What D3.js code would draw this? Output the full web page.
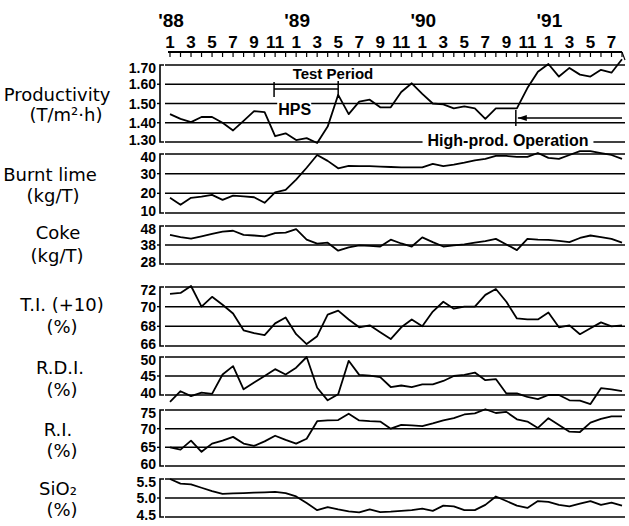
<!DOCTYPE html>
<html><head><meta charset="utf-8">
<script src="https://cdn.jsdelivr.net/npm/d3@7"></script>
<style>
html,body{margin:0;padding:0;background:#fff;}
svg{display:block;}
</style>
</head><body>
<svg id="chart" width="629" height="526"></svg>
<script>
// ---------- data ----------
const monthLabels = ["1","3","5","7","9","11","1","3","5","7","9","11","1","3","5","7","9","11","1","3","5","7"];
const yearLabels = ["'88","'89","'90","'91"];

const productivity = [1.445,1.42,1.403,1.43,1.43,1.40,1.36,1.41,1.46,1.455,1.33,1.345,1.31,1.32,1.295,1.38,1.545,1.445,1.51,1.52,1.48,1.48,1.56,1.605,1.55,1.50,1.495,1.475,1.485,1.475,1.42,1.475,1.475,1.475,1.58,1.665,1.705,1.64,1.685,1.65,1.64,1.675,1.66,1.73];
const burntLime = [17.7,14.2,17.7,18.3,19.2,16.7,18.8,18.5,18,15.2,20.5,21.8,27,33,39.5,36.5,32.7,34,33.8,33.8,33.6,33.4,33.2,33.2,33.2,35,33.8,34.6,35.6,36.8,37.5,39,39,38.5,38.5,40.5,38,37.5,39.5,41.5,41.5,40.5,39.5,37.5];
const coke = [43.3,42.2,41.3,42.5,43.8,45,45.5,43.3,43,42.5,44.2,44.5,46.3,40.8,38.7,39.2,35,36.7,37.8,37.5,37.2,40.8,38.8,37.2,42,39.5,37.2,37.8,38.3,39.2,40,41.2,38.3,35.3,41.2,40.8,40.7,40.2,39.5,41.7,43,42.2,41.2,39.2];
const tumblerIndex = [71.3,71.4,72.1,70,71,70.2,69.3,67.6,67.3,67.1,68.3,68.9,67.2,66.2,67,69.2,69.6,68.7,67.9,68.1,67.4,66.7,67.9,68.7,68,69.5,70.5,69.8,70,70,71.2,71.8,70.5,68.8,68.7,68.7,69.4,67.9,68.1,67.2,67.8,68.4,68,68.1];
const rdi = [38.2,41,39.7,40.6,40.3,45.4,47.6,41.5,43.3,45,46.8,45.4,47.2,50,41.9,38.6,40.2,49,45.3,45.1,44.7,42.1,42.5,42.1,42.8,42.8,43.7,45,45.3,45.9,43.9,44.2,40.4,40.4,39.5,38.9,40,40,38.6,38.5,37.6,41.8,41.5,41];
const ri = [65,64.4,66.8,63.8,66,66.8,67.8,66,65.4,66.6,68.1,67,66,67.3,72,72.2,72.3,74,72.2,72,71.9,70,71,70.9,70.7,71.4,72.2,72.8,73.8,74.1,75.2,74.2,74.5,72.5,71.9,70.2,72.8,71,69.2,69.1,71.6,72.6,73.3,73.3];
const sio2 = [5.5,5.38,5.36,5.27,5.18,5.11,5.12,5.13,5.14,5.15,5.16,5.13,5.04,4.87,4.68,4.76,4.7,4.65,4.62,4.7,4.63,4.64,4.66,4.68,4.72,4.66,4.8,4.78,4.68,4.68,4.82,5.04,4.92,4.8,4.74,4.92,4.9,4.82,4.78,4.85,4.92,4.82,4.88,4.8];

const prodTicks = [1.30,1.40,1.50,1.60,1.70];
const limeTicks = [10,20,30,40];
const cokeTicks = [28,38,48];
const tiTicks = [66,68,70,72];
const rdiTicks = [40,45,50];
const riTicks = [60,65,70,75];
const sio2Ticks = [4.5,5.0,5.5];

// ---------- layout ----------
const svg = d3.select("#chart");
const nMonths = productivity.length;
const x = d3.scaleLinear().domain([0, nMonths - 1]).range([170, 622]);
const gridX0 = 165, gridX1 = 625, bracketX = 160;
const tickFont = "'Liberation Sans', Arial, sans-serif";
const labFont = "'DejaVu Sans', sans-serif";

const panels = [
  {values: productivity, ticks: prodTicks, fmt: d3.format(".2f"), range: [142, 65],
   labels: [{t:"Productivity", x:57, y:101}, {t:"(T/m\u00B2\u00B7h)", x:66, y:121}]},
  {values: burntLime, ticks: limeTicks, fmt: d3.format("d"), range: [213, 154],
   labels: [{t:"Burnt lime", x:50, y:181}, {t:"(kg/T)", x:53, y:202}]},
  {values: coke, ticks: cokeTicks, fmt: d3.format("d"), range: [264, 226],
   labels: [{t:"Coke", x:58, y:239}, {t:"(kg/T)", x:57, y:262}]},
  {values: tumblerIndex, ticks: tiTicks, fmt: d3.format("d"), range: [346, 287],
   labels: [{t:"T.I. (+10)", x:62, y:311}, {t:"(%)", x:62, y:333}]},
  {values: rdi, ticks: rdiTicks, fmt: d3.format("d"), range: [395, 357],
   labels: [{t:"R.D.I.", x:60, y:374}, {t:"(%)", x:62, y:396}]},
  {values: ri, ticks: riTicks, fmt: d3.format("d"), range: [466, 410],
   labels: [{t:"R.I.", x:58, y:436}, {t:"(%)", x:62, y:457}]},
  {values: sio2, ticks: sio2Ticks, fmt: d3.format(".1f"), range: [517, 479],
   labels: [{t:"SiO\u2082", x:58, y:495}, {t:"(%)", x:62, y:516}]}
];

// ---------- top time axis ----------
const topY = 52;
svg.append("line").attr("x1", 168).attr("x2", 622).attr("y1", topY).attr("y2", topY)
  .attr("stroke", "#000").attr("stroke-width", 1.8);
const tickG = svg.append("g");
d3.range(nMonths).forEach(i => {
  tickG.append("line").attr("x1", x(i)).attr("x2", x(i)).attr("y1", topY).attr("y2", topY + 5)
    .attr("stroke", "#000").attr("stroke-width", 1.2);
});
svg.append("line").attr("x1", 622).attr("x2", 625).attr("y1", topY).attr("y2", topY + 8)
  .attr("stroke", "#000").attr("stroke-width", 1.2);
svg.append("g").selectAll("text").data(monthLabels).join("text")
  .attr("x", (d, i) => x(i * 2)).attr("y", 48)
  .attr("text-anchor", "middle")
  .style("font-family", tickFont).style("font-size", "17px").style("font-weight", "bold")
  .text(d => d);
svg.append("g").selectAll("text").data(yearLabels).join("text")
  .attr("x", (d, i) => x(i * 12) + 1).attr("y", 27)
  .attr("text-anchor", "middle")
  .style("font-family", tickFont).style("font-size", "19px").style("font-weight", "bold")
  .text(d => d);

// ---------- panels ----------
const line = d3.line();
panels.forEach(p => {
  const y = d3.scaleLinear().domain([p.ticks[0], p.ticks[p.ticks.length - 1]]).range(p.range);
  const g = svg.append("g");
  const last = p.ticks.length - 1;
  // grid
  g.selectAll("line.grid").data(p.ticks).join("line").attr("class", "grid")
    .attr("x1", gridX0).attr("x2", gridX1).attr("y1", d => y(d)).attr("y2", d => y(d))
    .attr("stroke", "#000").attr("stroke-width", 1.5);
  // bracket axis
  const yt = y(p.ticks[last]), yb = y(p.ticks[0]);
  g.append("path").attr("d", `M${bracketX + 4},${yt}H${bracketX}V${yb}H${bracketX + 4}`)
    .attr("fill", "none").attr("stroke", "#000").attr("stroke-width", 1.6);
  g.selectAll("line.tk").data(p.ticks.slice(1, -1)).join("line").attr("class", "tk")
    .attr("x1", bracketX - 3).attr("x2", bracketX).attr("y1", d => y(d)).attr("y2", d => y(d))
    .attr("stroke", "#000").attr("stroke-width", 1.4);
  // tick labels (edge labels nudged inward to keep them apart)
  g.selectAll("text.tl").data(p.ticks).join("text").attr("class", "tl")
    .attr("x", 156)
    .attr("y", (d, i) => y(d) + (i === 0 ? -2.5 : i === last ? 2.5 : 0))
    .attr("dy", "0.36em")
    .attr("text-anchor", "end")
    .style("font-family", tickFont).style("font-size", "14px").style("font-weight", "bold")
    .text(d => p.fmt(d));
  // series line
  g.append("path").datum(p.values)
    .attr("d", line.x((d, i) => x(i)).y(d => y(d)))
    .attr("fill", "none").attr("stroke", "#000").attr("stroke-width", 1.8)
    .attr("stroke-linejoin", "round");
  // label
  g.selectAll("text.lab").data(p.labels).join("text").attr("class", "lab")
    .attr("x", d => d.x).attr("y", d => d.y).attr("text-anchor", "middle")
    .style("font-family", labFont).style("font-size", "18px")
    .text(d => d.t);
});

// ---------- annotations (productivity panel) ----------
const ann = svg.append("g").attr("stroke", "#000").attr("stroke-width", 1.5).attr("fill", "none");
// Test period bracket
ann.append("line").attr("x1", x(9.9)).attr("x2", x(16)).attr("y1", 89).attr("y2", 89);
ann.append("line").attr("x1", x(9.9)).attr("x2", x(9.9)).attr("y1", 82).attr("y2", 97);
ann.append("line").attr("x1", x(16)).attr("x2", x(16)).attr("y1", 81).attr("y2", 96);
svg.append("text").attr("x", x(15.5)).attr("y", 79).attr("text-anchor", "middle")
  .style("font-family", tickFont).style("font-size", "15px").style("font-weight", "bold")
  .text("Test Period");
svg.append("rect").attr("x", x(10.2)).attr("y", 98).attr("width", 34).attr("height", 16).attr("fill", "#fff");
svg.append("text").attr("x", x(10.3)).attr("y", 115).attr("text-anchor", "start")
  .style("font-family", tickFont).style("font-size", "16px").style("font-weight", "bold")
  .text("HPS");
// High production arrow
ann.append("line").attr("x1", x(32.9)).attr("x2", x(32.9)).attr("y1", 110).attr("y2", 126);
ann.append("line").attr("x1", x(32.9) + 2).attr("x2", 622).attr("y1", 118).attr("y2", 118);
svg.append("path").attr("d", `M${x(32.9) + 2},118 l9,-3 v6 z`).attr("fill", "#000");
const hpG = svg.append("g");
const hpRect = hpG.append("rect").attr("fill", "#fff");
const hpText = hpG.append("text").attr("x", 508).attr("y", 146).attr("text-anchor", "middle")
  .style("font-family", tickFont).style("font-size", "16px").style("font-weight", "bold")
  .text("High-prod. Operation");
const bb = hpText.node().getBBox();
hpRect.attr("x", bb.x - 5).attr("y", 134).attr("width", bb.width + 10).attr("height", 14);
</script>
</body></html>
